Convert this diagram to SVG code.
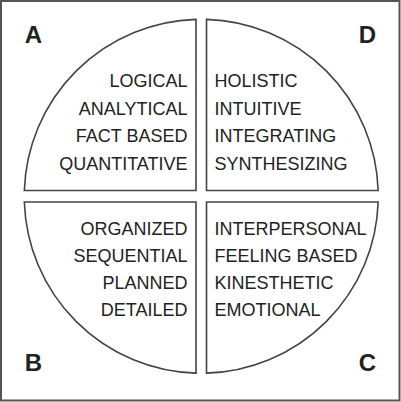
<svg xmlns="http://www.w3.org/2000/svg" width="401" height="402" viewBox="0 0 401 402">
<style>
.frame{fill:#ffffff;stroke:#555555;stroke-width:2}
.q{fill:#ffffff;stroke:#444444;stroke-width:1.6;stroke-linejoin:miter}
.t{font-family:"Liberation Sans",Arial,sans-serif;font-size:18px;fill:#222222}
.e{text-anchor:end}
.L{font-family:"Liberation Sans",Arial,sans-serif;font-size:24px;font-weight:bold;fill:#222222;text-anchor:middle}
</style>
<rect class="frame" x="1" y="1" width="398.5" height="399.5"/>
<g id="quadrant-A">
<path class="q" d="M196,190.5 L196,19.33 A177,177 0 0 0 24.34,190.5 Z"/>
<text class="t e" x="187.5" y="87">LOGICAL</text>
<text class="t e" x="187.5" y="114.5">ANALYTICAL</text>
<text class="t e" x="187.5" y="142">FACT BASED</text>
<text class="t e" x="187.5" y="169.5">QUANTITATIVE</text>
</g>
<g id="quadrant-D">
<path class="q" d="M206.5,190.5 L206.5,19.33 A177,177 0 0 1 378.16,190.5 Z"/>
<text class="t" x="214.5" y="87">HOLISTIC</text>
<text class="t" x="214.5" y="114.5">INTUITIVE</text>
<text class="t" x="214.5" y="142">INTEGRATING</text>
<text class="t" x="214.5" y="169.5">SYNTHESIZING</text>
</g>
<g id="quadrant-B">
<path class="q" d="M196,202 L24.34,202 A177,177 0 0 0 196,373.17 Z"/>
<text class="t e" x="187.5" y="235">ORGANIZED</text>
<text class="t e" x="187.5" y="262">SEQUENTIAL</text>
<text class="t e" x="187.5" y="289">PLANNED</text>
<text class="t e" x="187.5" y="315.5">DETAILED</text>
</g>
<g id="quadrant-C">
<path class="q" d="M206.5,202 L378.16,202 A177,177 0 0 1 206.5,373.17 Z"/>
<text class="t" x="214.5" y="235">INTERPERSONAL</text>
<text class="t" x="214.5" y="262">FEELING BASED</text>
<text class="t" x="214.5" y="289">KINESTHETIC</text>
<text class="t" x="214.5" y="315.5">EMOTIONAL</text>
</g>
<g id="labels">
<text class="L" x="33.5" y="43">A</text>
<text class="L" x="367.5" y="43">D</text>
<text class="L" x="33.5" y="371">B</text>
<text class="L" x="367.5" y="370.5">C</text>
</g>
<g id="connectors"></g>
</svg>
